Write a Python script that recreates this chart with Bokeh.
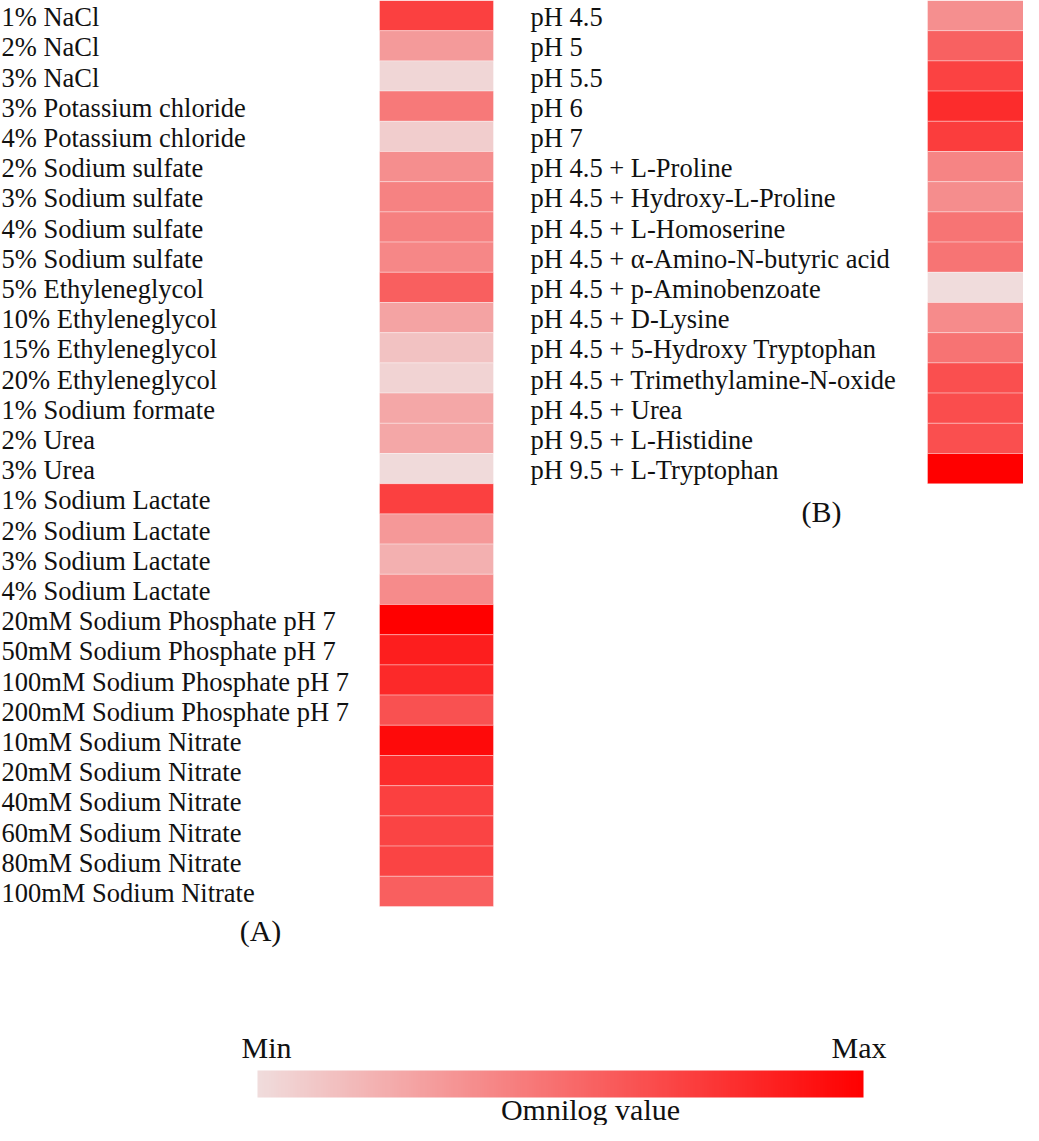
import numpy as np
from bokeh.plotting import figure
from bokeh.models import Range1d, ColumnDataSource, LinearColorMapper
from bokeh.core.properties import value
from bokeh.embed import file_html
from bokeh.resources import INLINE

# ---------------- data ----------------
labels_a = [
    "1% NaCl", "2% NaCl", "3% NaCl", "3% Potassium chloride", "4% Potassium chloride",
    "2% Sodium sulfate", "3% Sodium sulfate", "4% Sodium sulfate", "5% Sodium sulfate",
    "5% Ethyleneglycol", "10% Ethyleneglycol", "15% Ethyleneglycol", "20% Ethyleneglycol",
    "1% Sodium formate", "2% Urea", "3% Urea",
    "1% Sodium Lactate", "2% Sodium Lactate", "3% Sodium Lactate", "4% Sodium Lactate",
    "20mM Sodium Phosphate pH 7", "50mM Sodium Phosphate pH 7",
    "100mM Sodium Phosphate pH 7", "200mM Sodium Phosphate pH 7",
    "10mM Sodium Nitrate", "20mM Sodium Nitrate", "40mM Sodium Nitrate",
    "60mM Sodium Nitrate", "80mM Sodium Nitrate", "100mM Sodium Nitrate",
]
values_a = [
    0.71, 0.30, 0.03, 0.45, 0.07,
    0.355, 0.41, 0.42, 0.39,
    0.57, 0.26, 0.12, 0.045,
    0.24, 0.24, 0.01,
    0.71, 0.31, 0.20, 0.37,
    1.00, 0.86, 0.81, 0.63,
    0.95, 0.80, 0.71, 0.69, 0.69, 0.57,
]
labels_b = [
    "pH 4.5", "pH 5", "pH 5.5", "pH 6", "pH 7",
    "pH 4.5 + L-Proline", "pH 4.5 + Hydroxy-L-Proline", "pH 4.5 + L-Homoserine",
    "pH 4.5 + \u03b1-Amino-N-butyric acid", "pH 4.5 + p-Aminobenzoate",
    "pH 4.5 + D-Lysine", "pH 4.5 + 5-Hydroxy Tryptophan",
    "pH 4.5 + Trimethylamine-N-oxide", "pH 4.5 + Urea",
    "pH 9.5 + L-Histidine", "pH 9.5 + L-Tryptophan",
]
values_b = [
    0.35, 0.56, 0.70, 0.80, 0.72,
    0.40, 0.36, 0.47, 0.47, 0.00,
    0.37, 0.48, 0.64, 0.65, 0.64, 1.00,
]
panel_tags = ["(A)", "(B)"]
scale_labels = ["Min", "Max"]
scale_title = "Omnilog value"

# ---------------- styling ----------------
W, H = 1023, 1125
ROW_H = 30.2
DY = -8          # text baseline correction
FONT = value("Liberation Serif")
LBL_SIZE = "26.5px"
BIG_SIZE = "30px"

lo = np.array([240, 220, 220])
hi = np.array([255, 0, 0])
palette = ["#%02x%02x%02x" % tuple(int(round(c)) for c in lo + (hi - lo) * t)
           for t in np.linspace(0, 1, 256)]
mapper = LinearColorMapper(palette=palette, low=0, high=1)

p = figure(width=W, height=H, x_range=Range1d(0, W), y_range=Range1d(H, 0),
           output_backend="svg", toolbar_location=None, min_border=0)
p.axis.visible = False
p.grid.visible = False
p.outline_line_color = None
p.background_fill_color = "white"
p.border_fill_color = "white"


def column(labels, vals, label_x, cell_x0, cell_x1):
    n = len(labels)
    top = np.arange(n) * ROW_H
    src = ColumnDataSource(dict(
        top=top, bottom=top + ROW_H, val=vals, label=labels,
        ty=top + ROW_H / 2 + 9.5 + DY,
    ))
    p.quad(left=cell_x0, right=cell_x1, top="top", bottom="bottom", source=src,
           fill_color={"field": "val", "transform": mapper},
           line_color="white", line_alpha=0.35, line_width=1)
    p.text(x=label_x, y="ty", text="label", source=src, text_font=FONT,
           text_font_size=LBL_SIZE, text_align="left",
           text_baseline="alphabetic", text_color="#111111")
    return n * ROW_H


bot_a = column(labels_a, values_a, 1, 379, 493)
bot_b = column(labels_b, values_b, 530, 927, 1023)

# panel tags
p.text(x=[260, 821], y=[bot_a + 32 + DY, bot_b + 36 + DY], text=panel_tags,
       text_font=FONT, text_font_size=BIG_SIZE, text_align="center",
       text_baseline="alphabetic", text_color="#111111")

# colour scale
cb_x0, cb_x1, cb_y0, cb_y1 = 257, 863, 1070, 1097
p.image(image=[np.linspace(0, 1, 512)[None, :]], x=cb_x0, y=cb_y0,
        dw=cb_x1 - cb_x0, dh=cb_y1 - cb_y0, color_mapper=mapper)
p.text(x=[241, 886], y=[1055 + DY, 1055 + DY], text=scale_labels, text_font=FONT,
       text_font_size=BIG_SIZE, text_align=["left", "right"],
       text_baseline="alphabetic", text_color="#111111")
p.text(x=[590], y=[1117 + DY], text=[scale_title], text_font=FONT,
       text_font_size=BIG_SIZE, text_align="center", text_baseline="alphabetic",
       text_color="#111111")

open("out.html", "w").write(file_html(p, INLINE))
